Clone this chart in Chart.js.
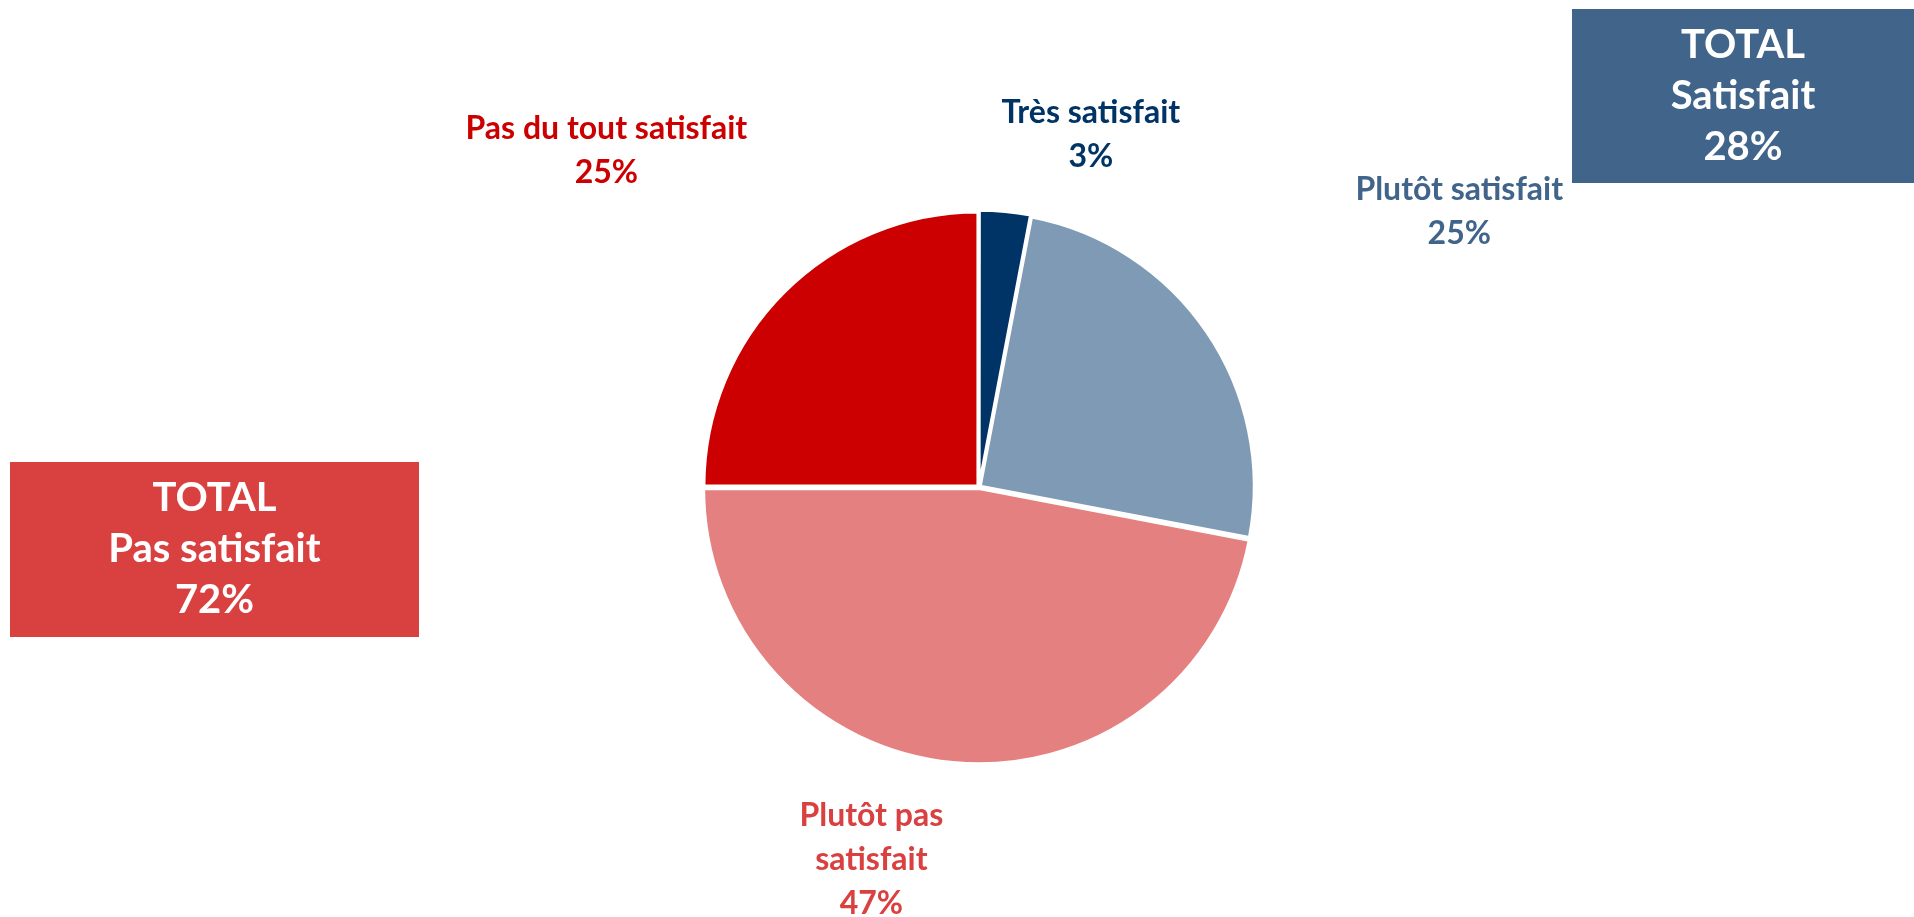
<!DOCTYPE html>
<html>
<head>
<meta charset="utf-8">
<script src="https://cdn.jsdelivr.net/npm/chart.js@4.4.1/dist/chart.umd.min.js"></script>
<style>
  html, body { margin: 0; padding: 0; background: #fff; }
  #wrap { position: relative; width: 1914px; height: 917px; }
</style>
</head>
<body>
<div id="wrap"><canvas id="grafico" width="1914" height="917"></canvas></div>
<script>
// données
const categories = ["Très satisfait", "Plutôt satisfait", "Plutôt pas satisfait", "Pas du tout satisfait"];
const valeurs = [3, 25, 47, 25];
const etiquettes = [
  ["Très satisfait", "3%"],
  ["Plutôt satisfait", "25%"],
  ["Plutôt pas", "satisfait", "47%"],
  ["Pas du tout satisfait", "25%"]
];
const totaux = [
  ["TOTAL", "Satisfait", "28%"],
  ["TOTAL", "Pas satisfait", "72%"]
];

const couleurs = ['#003366', '#7F9AB4', '#E48080', '#CC0000'];
const couleursTexte = ['#003366', '#41658A', '#D94040', '#CC0000'];

// position des étiquettes (relative au centre du camembert, en rayons)
const posEtiquettes = [
  { dx: 0.405, dy: -1.275 },
  { dx: 1.74, dy: -0.996 },
  { dx: -0.39, dy: 1.35 },
  { dx: -1.35, dy: -1.217 }
];

const police = 'Lato, "Open Sans", sans-serif';

const pluginEtiquettes = {
  id: 'etiquettes',
  afterDraw(chart) {
    const ctx = chart.ctx;
    const arc = chart.getDatasetMeta(0).data[0];
    const cx = arc.x, cy = arc.y, r = 276;
    ctx.save();
    ctx.textAlign = 'center';
    ctx.textBaseline = 'middle';
    ctx.font = 'bold 32px ' + police;
    etiquettes.forEach((lignes, i) => {
      const p = posEtiquettes[i];
      const x = cx + p.dx * r;
      const y = cy + p.dy * r;
      ctx.fillStyle = couleursTexte[i];
      const h = 44;
      lignes.forEach((t, j) => {
        ctx.fillText(t, x, y + (j - (lignes.length - 1) / 2) * h);
      });
    });

    // encadrés TOTAL
    const boites = [
      { x: 1572, y: 9, w: 342, h: 174, fond: '#41658A' },
      { x: 10, y: 462, w: 409, h: 175, fond: '#D94040' }
    ];
    ctx.font = 'bold 40px ' + police;
    boites.forEach((b, i) => {
      ctx.fillStyle = b.fond;
      ctx.fillRect(b.x, b.y, b.w, b.h);
      ctx.fillStyle = '#ffffff';
      totaux[i].forEach((t, j) => {
        ctx.fillText(t, b.x + b.w / 2, b.y + b.h / 2 + (j - 1) * 51);
      });
    });
    ctx.restore();
  }
};

const graficoChart = new Chart(document.getElementById('grafico'), {
  type: 'pie',
  data: {
    labels: categories,
    datasets: [{
      data: valeurs,
      backgroundColor: couleurs,
      borderColor: '#ffffff',
      borderWidth: 3,
      offset: 6
    }]
  },
  options: {
    responsive: false,
    animation: false,
    radius: 274,
    layout: { padding: { left: 44, right: 0, top: 211, bottom: 154 } },
    plugins: {
      legend: { display: false },
      tooltip: { enabled: false }
    }
  },
  plugins: [pluginEtiquettes]
});
</script>
</body>
</html>
